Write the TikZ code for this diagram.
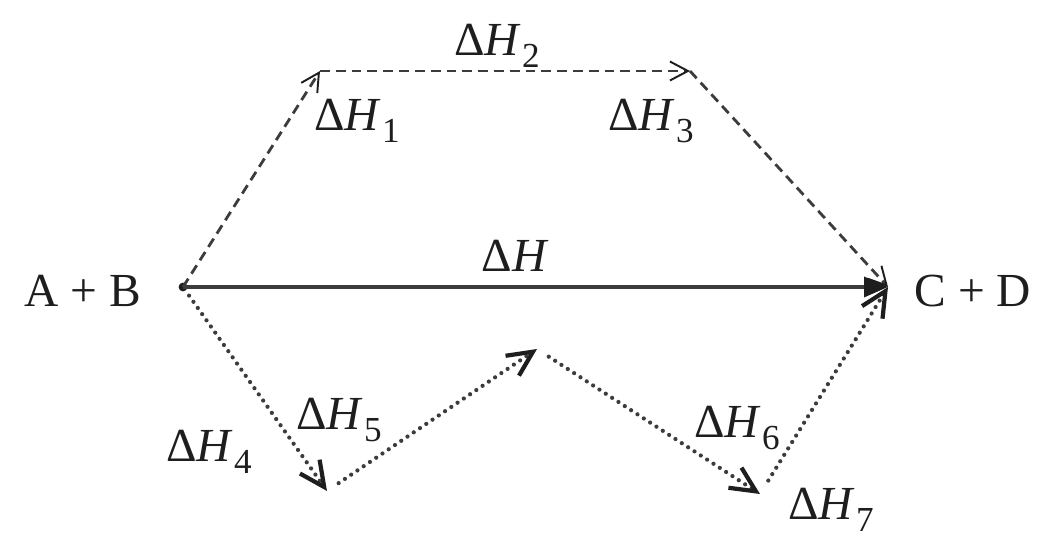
\documentclass[tikz,border=0pt]{standalone}
\usepackage{fontspec}
\setmainfont{Liberation Serif}
\usetikzlibrary{arrows.meta,positioning}
\definecolor{Ink}{HTML}{1E1E1E}
\definecolor{Line}{HTML}{3C3C3C}
\newcommand{\dH}[1]{Δ\textit{H}\kern.5pt\raisebox{-.55ex}{\fontsize{20}{22}\selectfont #1}}
\tikzset{
  lbl/.style={text=Ink,font=\fontsize{27}{30}\selectfont,inner sep=0pt},
  direct/.style={-{Triangle[length=4.8mm,width=4mm,color=Ink]},draw=Line,line width=2pt},
  upper/.style={-{Straight Barb[length=3.6mm,width=3.8mm,line width=1.1pt,color=Ink]},draw=Line,line width=1.6pt,dash pattern=on 5.6pt off 3.4pt},
  lower/.style={-{Straight Barb[length=5mm,width=4.8mm,line width=2.4pt,color=Ink]},draw=Line,line width=2.4pt,line cap=round,dash pattern=on 0pt off 4.3pt},
}
\begin{document}
\begin{tikzpicture}[x=0.02cm,y=-0.02cm]
    \useasboundingbox (0,0) rectangle (1046,541);
    % end states
    \node[lbl] (ab) at (83,291) {A + B};
    \node[lbl] (cd) at (973,291) {C + D};
    \coordinate (s) at (183,287);
    \coordinate (e) at (888,287);
    % corners of the two indirect routes
    \coordinate (u1) at (320,71);
    \coordinate (u2) at (690,71);
    \coordinate (v1) at (327,491);
    \coordinate (v2) at (537,349);
    \coordinate (v3) at (760,494);
    \fill[Ink] (s) circle (2.5pt);
    \draw[direct] (s) -- (e);
    \draw[upper] (s) -- (u1);
    \draw[upper] (u1) -- (u2);
    \draw[upper] (u2) -- (e);
    \draw[lower,shorten <=6pt] (s) -- (v1);
    \draw[lower,shorten <=8pt] (v1) -- (v2);
    \draw[lower,shorten <=8pt] (v2) -- (v3);
    \draw[lower,shorten <=9pt] (v3) -- (e);
    % labels
    \node[lbl] (h) at (515,256) {Δ\textit{H}};
    \node[lbl] (h1) at (357,121) {\dH{1}};
    \node[lbl] (h2) at (497,46) {\dH{2}};
    \node[lbl] (h3) at (651,121) {\dH{3}};
    \node[lbl] (h4) at (209,452) {\dH{4}};
    \node[lbl] (h5) at (339,420) {\dH{5}};
    \node[lbl] (h6) at (737,428) {\dH{6}};
    \node[lbl] (h7) at (831,510) {\dH{7}};
\end{tikzpicture}
\end{document}
